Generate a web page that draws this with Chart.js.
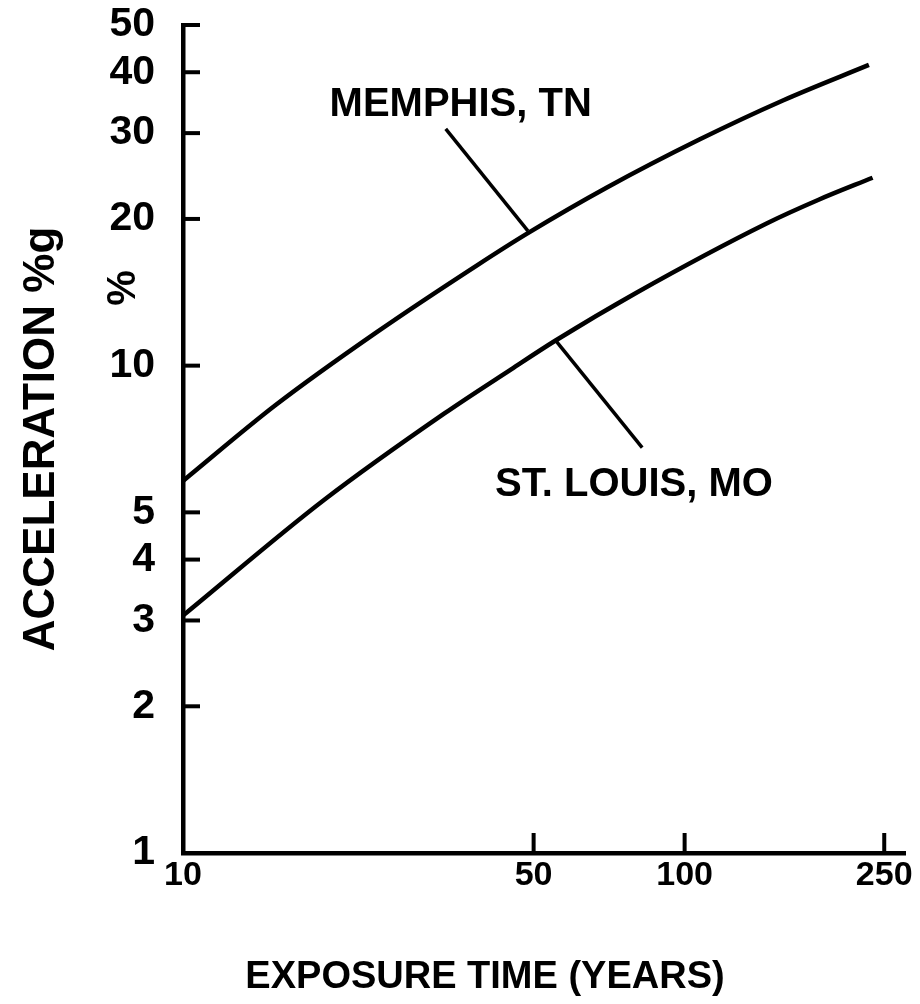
<!DOCTYPE html>
<html>
<head>
<meta charset="utf-8">
<script src="https://cdn.jsdelivr.net/npm/chart.js@4.4.1/dist/chart.umd.min.js"></script>
<style>
html,body{margin:0;padding:0;background:#ffffff;}
#wrap{width:920px;height:1004px;position:relative;background:#ffffff;}
</style>
</head>
<body>
<div id="wrap"><canvas id="c" width="920" height="1004"></canvas></div>
<script>
// ---- data (log-log chart) ----
const memphisX = [10, 15.3, 24.3, 38.7, 48.7, 70, 107, 157, 233];
const memphisY = [5.8, 8.3, 11.7, 16.1, 18.7, 23.2, 29.1, 35.0, 41.4];
const stLouisX = [10, 19.1, 33.2, 45.1, 55.2, 80, 146, 185, 237];
const stLouisY = [3.07, 5.3, 7.98, 9.83, 11.25, 14.1, 19.6, 21.9, 24.3];

const seriesNames = ['MEMPHIS, TN', 'ST. LOUIS, MO'];

// leader lines from labels to curves (data space)
const memphisLeaderX = [33.4, 48.7];
const memphisLeaderY = [30.6, 18.9];
const stLouisLeaderX = [55.2, 82.3];
const stLouisLeaderY = [11.3, 6.79];

// label anchors (data space: left edge x, middle y)
const memphisLabelAt = [19.6, 34.3];
const stLouisLabelAt = [41.9, 5.68];

// axis ticks / labels
const xTickLabels = [10, 50, 100, 250];
const yTickLabels = [1, 2, 3, 4, 5, 10, 20, 30, 40, 50];
const xTickMarks = [50, 100, 250];
const yTickMarks = [2, 3, 4, 5, 10, 20, 30, 40, 50];
const xMin = 10, xMax = 275, yMin = 1, yMax = 50;

const xTitle = 'EXPOSURE TIME (YEARS)';
const yTitle = 'ACCELERATION %g';

const FONT = '"Liberation Sans", Arial, Helvetica, sans-serif';

function pts(xs, ys) { return xs.map((v, i) => ({ x: v, y: ys[i] })); }

const inkPlugin = {
  id: 'ink',
  afterDraw(chart) {
    const { ctx, chartArea, scales } = chart;
    const x = scales.x, y = scales.y;
    ctx.save();
    ctx.strokeStyle = '#000';
    ctx.lineWidth = 4;
    ctx.lineCap = 'butt';
    yTickMarks.forEach(v => {
      const py = y.getPixelForValue(v);
      ctx.beginPath();
      ctx.moveTo(chartArea.left, py);
      ctx.lineTo(chartArea.left + 17, py);
      ctx.stroke();
    });
    xTickMarks.forEach(v => {
      const px = x.getPixelForValue(v);
      ctx.beginPath();
      ctx.moveTo(px, chartArea.bottom);
      ctx.lineTo(px, chartArea.bottom - 20);
      ctx.stroke();
    });
    ctx.fillStyle = '#000';
    ctx.font = 'bold 40px ' + FONT;
    ctx.textAlign = 'left';
    ctx.textBaseline = 'middle';
    ctx.fillText(seriesNames[0], x.getPixelForValue(memphisLabelAt[0]), y.getPixelForValue(memphisLabelAt[1]));
    ctx.fillText(seriesNames[1], x.getPixelForValue(stLouisLabelAt[0]), y.getPixelForValue(stLouisLabelAt[1]));
    ctx.font = 'bold 38px ' + FONT;
    ctx.textAlign = 'center';
    ctx.fillText(xTitle, 485, 978);
    ctx.font = 'bold 40px ' + FONT;
    ctx.translate(124, 288);
    ctx.rotate(-Math.PI / 2);
    ctx.fillText('%', 0, 0);
    ctx.restore();
  }
};

new Chart(document.getElementById('c'), {
  type: 'line',
  data: {
    datasets: [
      { label: seriesNames[0], data: pts(memphisX, memphisY), borderColor: '#000', borderWidth: 4.5, pointRadius: 0, cubicInterpolationMode: 'monotone', fill: false },
      { label: seriesNames[1], data: pts(stLouisX, stLouisY), borderColor: '#000', borderWidth: 4.5, pointRadius: 0, cubicInterpolationMode: 'monotone', fill: false },
      { label: 'memphis-leader', data: pts(memphisLeaderX, memphisLeaderY), borderColor: '#000', borderWidth: 3.5, pointRadius: 0, tension: 0, fill: false },
      { label: 'stlouis-leader', data: pts(stLouisLeaderX, stLouisLeaderY), borderColor: '#000', borderWidth: 3.5, pointRadius: 0, tension: 0, fill: false }
    ]
  },
  options: {
    responsive: false,
    animation: false,
    devicePixelRatio: 1,
    layout: { padding: { left: 0, top: 25, right: 15, bottom: 0 } },
    plugins: { legend: { display: false }, tooltip: { enabled: false }, title: { display: false } },
    scales: {
      x: {
        type: 'logarithmic',
        position: 'bottom',
        min: xMin, max: xMax,
        afterBuildTicks(scale) { scale.ticks = xTickLabels.map(v => ({ value: v })); },
        afterFit(scale) { scale.height = 151; scale.paddingLeft = 0; scale.paddingRight = 0; },
        ticks: {
          autoSkip: false, maxRotation: 0, minRotation: 0, padding: 2,
          color: '#000',
          font: { family: FONT, size: 34, weight: 'bold' },
          callback: (v) => String(v)
        },
        grid: { display: false, drawTicks: false },
        border: { display: true, color: '#000', width: 4.5 },
        title: { display: false }
      },
      y: {
        type: 'logarithmic',
        position: 'left',
        min: yMin, max: yMax,
        afterBuildTicks(scale) { scale.ticks = yTickLabels.map(v => ({ value: v })); },
        afterFit(scale) { scale.width = 183; scale.paddingTop = 0; scale.paddingBottom = 0; },
        ticks: {
          autoSkip: false, padding: 28,
          color: '#000',
          font: { family: FONT, size: 41, weight: 'bold' },
          callback: (v) => String(v)
        },
        grid: { display: false, drawTicks: false },
        border: { display: true, color: '#000', width: 4.5 },
        title: {
          display: true, text: yTitle, color: '#000',
          font: { family: FONT, size: 44, weight: 'bold', lineHeight: 1.2 },
          padding: { top: 15, bottom: 0 }
        }
      }
    }
  },
  plugins: [inkPlugin]
});
</script>
</body>
</html>
